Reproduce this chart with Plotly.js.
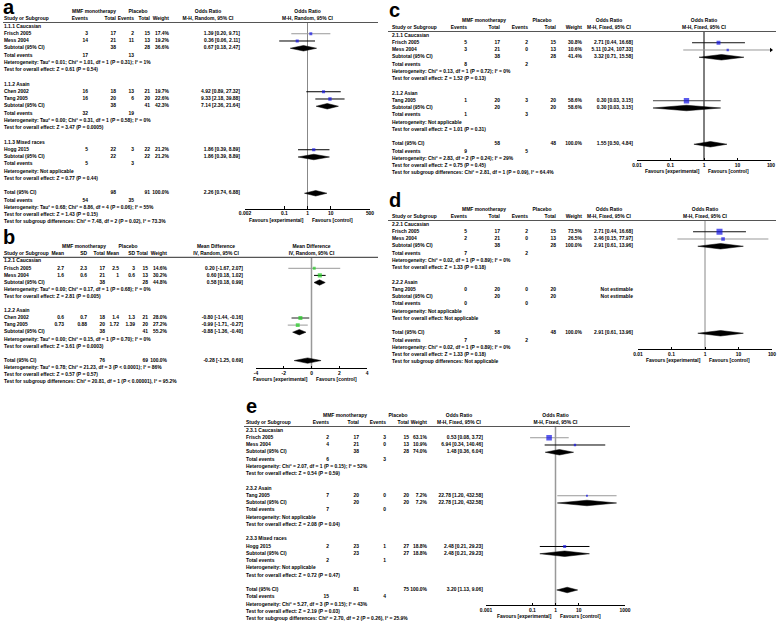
<!DOCTYPE html>
<html>
<head>
<meta charset="utf-8">
<script src="https://cdn.plot.ly/plotly-3.0.1.min.js"></script>
<style>
  html, body { margin: 0; padding: 0; background: #fff; }
  #graph { width: 778px; height: 625px; }
</style>
</head>
<body>
<div id="graph"></div>
<script>
// Five RevMan style forest plots (a-e) drawn with plotly

// ---------- a: odds ratio, M-H random ----------
var aGroups = ['1.1.1 Caucasian', '1.1.2 Asain', '1.1.3 Mixed races'];
var aStudies = ['Frisch 2005', 'Mess 2004', 'Chen 2002', 'Tang 2005', 'Hogg 2015'];
var aGroupOf = [0, 0, 1, 1, 2];
var aMmfEvents = [3, 14, 16, 16, 5];
var aMmfTotal = [17, 21, 18, 20, 22];
var aPlaEvents = [2, 11, 13, 6, 3];
var aPlaTotal = [15, 13, 21, 20, 22];
var aWeight = [17.4, 19.2, 19.7, 22.6, 21.2];
var aEst = [1.39, 0.36, 4.92, 9.33, 1.86];
var aLow = [0.20, 0.06, 0.89, 2.18, 0.39];
var aHigh = [9.71, 2.11, 27.32, 39.88, 8.89];
var aSubWeight = [36.6, 42.3, 21.2];
var aSubEst = [0.67, 7.14, 1.86];
var aSubLow = [0.18, 2.36, 0.39];
var aSubHigh = [2.47, 21.64, 8.89];
var aSubHet = ['Heterogeneity: Tau² = 0.01; Chi² = 1.01, df = 1 (P = 0.31); I² = 1%',
               'Heterogeneity: Tau² = 0.00; Chi² = 0.31, df = 1 (P = 0.58); I² = 0%',
               'Heterogeneity: Not applicable'];
var aSubTest = ['Test for overall effect: Z = 0.61 (P = 0.54)',
                'Test for overall effect: Z = 3.47 (P = 0.0005)',
                'Test for overall effect: Z = 0.77 (P = 0.44)'];
var aTotal = [2.26, 0.74, 6.88];
var aNotes = ['Heterogeneity: Tau² = 0.68; Chi² = 8.86, df = 4 (P = 0.06); I² = 55%',
              'Test for overall effect: Z = 1.43 (P = 0.15)',
              'Test for subgroup differences: Chi² = 7.48, df = 2 (P = 0.02), I² = 73.3%'];

// ---------- b: mean difference, IV random ----------
var bGroups = ['1.2.1 Caucasian', '1.2.2 Asain'];
var bStudies = ['Frisch 2005', 'Mess 2004', 'Chen 2002', 'Tang 2005'];
var bGroupOf = [0, 0, 1, 1];
var bMmfMean = [2.7, 1.6, 0.6, 0.73];
var bMmfSD = [2.3, 0.6, 0.7, 0.88];
var bMmfTotal = [17, 21, 18, 20];
var bPlaMean = [2.5, 1, 1.4, 1.72];
var bPlaSD = [3, 0.6, 1.3, 1.39];
var bPlaTotal = [15, 13, 21, 20];
var bWeight = [14.6, 30.2, 28.0, 27.2];
var bEst = [0.20, 0.60, -0.80, -0.99];
var bLow = [-1.67, 0.18, -1.44, -1.71];
var bHigh = [2.07, 1.02, -0.16, -0.27];
var bSubWeight = [44.8, 55.2];
var bSubEst = [0.58, -0.88];
var bSubLow = [0.18, -1.36];
var bSubHigh = [0.99, -0.40];
var bSubHet = ['Heterogeneity: Tau² = 0.00; Chi² = 0.17, df = 1 (P = 0.68); I² = 0%',
               'Heterogeneity: Tau² = 0.00; Chi² = 0.15, df = 1 (P = 0.70); I² = 0%'];
var bSubTest = ['Test for overall effect: Z = 2.81 (P = 0.005)',
                'Test for overall effect: Z = 3.61 (P = 0.0003)'];
var bTotal = [-0.28, -1.25, 0.69];
var bNotes = ['Heterogeneity: Tau² = 0.78; Chi² = 21.23, df = 3 (P < 0.0001); I² = 86%',
              'Test for overall effect: Z = 0.57 (P = 0.57)',
              'Test for subgroup differences: Chi² = 20.81, df = 1 (P < 0.00001), I² = 95.2%'];

// ---------- c: odds ratio, M-H fixed ----------
var cGroups = ['2.1.1 Caucasian', '2.1.2 Asian'];
var cStudies = ['Frisch 2005', 'Mess 2004', 'Tang 2005'];
var cGroupOf = [0, 0, 1];
var cMmfEvents = [5, 3, 1];
var cMmfTotal = [17, 21, 20];
var cPlaEvents = [2, 0, 3];
var cPlaTotal = [15, 13, 20];
var cWeight = [30.8, 10.6, 58.6];
var cEst = [2.71, 5.11, 0.30];
var cLow = [0.44, 0.24, 0.03];
var cHigh = [16.68, 107.33, 3.15];
var cSubWeight = [41.4, 58.6];
var cSubEst = [3.32, 0.30];
var cSubLow = [0.71, 0.03];
var cSubHigh = [15.58, 3.15];
var cSubHet = ['Heterogeneity: Chi² = 0.13, df = 1 (P = 0.72); I² = 0%',
               'Heterogeneity: Not applicable'];
var cSubTest = ['Test for overall effect: Z = 1.52 (P = 0.13)',
                'Test for overall effect: Z = 1.01 (P = 0.31)'];
var cTotal = [1.55, 0.50, 4.84];
var cNotes = ['Heterogeneity: Chi² = 2.83, df = 2 (P = 0.24); I² = 29%',
              'Test for overall effect: Z = 0.75 (P = 0.45)',
              'Test for subgroup differences: Chi² = 2.81, df = 1 (P = 0.09), I² = 64.4%'];

// ---------- d: odds ratio, M-H fixed ----------
var dGroups = ['2.2.1 Caucasian', '2.2.2 Asain'];
var dStudies = ['Frisch 2005', 'Mess 2004', 'Tang 2005'];
var dGroupOf = [0, 0, 1];
var dMmfEvents = [5, 2, 0];
var dMmfTotal = [17, 21, 20];
var dPlaEvents = [2, 0, 0];
var dPlaTotal = [15, 13, 20];
var dWeight = [73.5, 26.5, null];
var dEst = [2.71, 3.46, null];
var dLow = [0.44, 0.15, null];
var dHigh = [16.68, 77.97, null];
var dSubWeight = [100.0, null];
var dSubEst = [2.91, null];
var dSubLow = [0.61, null];
var dSubHigh = [13.96, null];
var dSubHet = ['Heterogeneity: Chi² = 0.02, df = 1 (P = 0.89); I² = 0%',
               'Heterogeneity: Not applicable'];
var dSubTest = ['Test for overall effect: Z = 1.33 (P = 0.18)',
                'Test for overall effect: Not applicable'];
var dTotal = [2.91, 0.61, 13.96];
var dNotes = ['Heterogeneity: Chi² = 0.02, df = 1 (P = 0.89); I² = 0%',
              'Test for overall effect: Z = 1.33 (P = 0.18)',
              'Test for subgroup differences: Not applicable'];

// ---------- e: odds ratio, M-H fixed ----------
var eGroups = ['2.3.1 Caucasian', '2.3.2 Asain', '2.3.3 Mixed races'];
var eStudies = ['Frisch 2005', 'Mess 2004', 'Tang 2005', 'Hogg 2015'];
var eGroupOf = [0, 0, 1, 2];
var eMmfEvents = [2, 4, 7, 2];
var eMmfTotal = [17, 21, 20, 23];
var ePlaEvents = [3, 0, 0, 1];
var ePlaTotal = [15, 13, 20, 27];
var eWeight = [63.1, 10.9, 7.2, 18.8];
var eEst = [0.53, 6.94, 22.78, 2.48];
var eLow = [0.08, 0.34, 1.20, 0.21];
var eHigh = [3.72, 140.46, 432.58, 29.23];
var eSubWeight = [74.0, 7.2, 18.8];
var eSubEst = [1.48, 22.78, 2.48];
var eSubLow = [0.36, 1.20, 0.21];
var eSubHigh = [6.04, 432.58, 29.23];
var eSubHet = ['Heterogeneity: Chi² = 2.07, df = 1 (P = 0.15); I² = 52%',
               'Heterogeneity: Not applicable',
               'Heterogeneity: Not applicable'];
var eSubTest = ['Test for overall effect: Z = 0.54 (P = 0.59)',
                'Test for overall effect: Z = 2.08 (P = 0.04)',
                'Test for overall effect: Z = 0.72 (P = 0.47)'];
var eTotal = [3.20, 1.13, 9.06];
var eNotes = ['Heterogeneity: Chi² = 5.27, df = 3 (P = 0.15); I² = 43%',
              'Test for overall effect: Z = 2.19 (P = 0.03)',
              'Test for subgroup differences: Chi² = 2.70, df = 2 (P = 0.26), I² = 25.9%'];

// ---------- page geometry (pixels) ----------
var W = 778, H = 625;
var FONT = '"Liberation Sans", Arial, sans-serif';
var TXT = 4.95;
var BLUE = '#1414e6', GREEN = '#22cc22';
var txtFont = {family: FONT, size: TXT, color: '#000', weight: 'bold'};

var data = [];
var layout = {
    width: W, height: H,
    margin: {l: 0, r: 0, t: 0, b: 0},
    paper_bgcolor: '#fff',
    plot_bgcolor: 'rgba(0,0,0,0)',
    showlegend: false,
    font: txtFont,
    // a shared pixel axis for the table text
    xaxis: {domain: [0, 1], range: [0, W], visible: false, fixedrange: true, anchor: 'y2'},
    shapes: [],
    annotations: []
};

function fx(v) { return v.toFixed(2); }
function ciText(e, lo, hi) { return e == null ? 'Not estimable' : fx(e) + ' [' + fx(lo) + ', ' + fx(hi) + ']'; }
function wText(w) { return w == null ? '' : w.toFixed(1) + '%'; }
function sum(arr, ids) { var s = 0; ids.forEach(function (i) { s += arr[i]; }); return s; }

function textTrace(ya, x, ys, txt, pos) {
    return {
        type: 'scatter', mode: 'text', xaxis: 'x', yaxis: ya,
        x: ys.map(function () { return x; }), y: ys, text: txt,
        textposition: pos, cliponaxis: false, hoverinfo: 'skip',
        textfont: txtFont
    };
}

// draws one forest panel, d = data, g = geometry
function drawPanel(k, d, g) {
    var xa = 'x' + k, ya = 'y' + k;
    var cont = !!d.mmfMean;
    var all = d.studies.map(function (s, i) { return i; });
    var rows = [];
    var r = 2;
    function add(cells, mark) { rows.push({r: r, cells: cells, mark: mark}); r++; }

    d.groups.forEach(function (gname, gi) {
        add([gname]);
        var ids = all.filter(function (i) { return d.groupOf[i] === gi; });
        ids.forEach(function (i) {
            var c = cont ? [d.mmfMean[i], d.mmfSD[i], d.mmfTotal[i], d.plaMean[i], d.plaSD[i], d.plaTotal[i]]
                         : [d.mmfEvents[i], d.mmfTotal[i], d.plaEvents[i], d.plaTotal[i]];
            add([d.studies[i]].concat(c, [wText(d.weight[i]), ciText(d.est[i], d.low[i], d.high[i])]),
                {type: 'study', i: i});
        });
        var n1 = sum(d.mmfTotal, ids), n2 = sum(d.plaTotal, ids);
        var sc = cont ? ['', '', n1, '', '', n2] : ['', n1, '', n2];
        add(['Subtotal (95% CI)'].concat(sc, [wText(d.subWeight[gi]), ciText(d.subEst[gi], d.subLow[gi], d.subHigh[gi])]),
            {type: 'diamond', e: d.subEst[gi], lo: d.subLow[gi], hi: d.subHigh[gi]});
        if (!cont) add(['Total events', sum(d.mmfEvents, ids), '', sum(d.plaEvents, ids)]);
        add([d.subHet[gi]]);
        add([d.subTest[gi]]);
        r++;
    });
    var N1 = sum(d.mmfTotal, all), N2 = sum(d.plaTotal, all);
    var tc = cont ? ['', '', N1, '', '', N2] : ['', N1, '', N2];
    add(['Total (95% CI)'].concat(tc, ['100.0%', ciText(d.total[0], d.total[1], d.total[2])]),
        {type: 'diamond', e: d.total[0], lo: d.total[1], hi: d.total[2]});
    if (!cont) add(['Total events', sum(d.mmfEvents, all), '', sum(d.plaEvents, all)]);
    d.notes.forEach(function (t) { add([t]); });

    // axes for this panel: row units on y, effect scale on x
    var r0 = -1.5, r1 = r - 0.5;
    layout['yaxis' + k] = {
        domain: [1 - (g.top + r1 * g.rowH) / H, 1 - (g.top + r0 * g.rowH) / H],
        range: [r1, r0], visible: false, fixedrange: true, anchor: xa
    };
    layout['xaxis' + k] = {
        domain: [g.plot[0] / W, g.plot[1] / W], type: g.log ? 'log' : 'linear',
        range: g.range, anchor: 'free', position: 1 - g.axisY / H,
        tickmode: 'array', tickvals: g.ticks, ticktext: g.ticks.map(String),
        showline: true, linecolor: '#000', linewidth: 1, ticks: 'inside', ticklen: 2.5,
        tickcolor: '#000', tickwidth: 1,
        tickfont: txtFont,
        showgrid: false, zeroline: false, fixedrange: true
    };

    // table text
    var heads = cont ? ['Mean', 'SD', 'Total', 'Mean', 'SD', 'Total', 'Weight'] : ['Events', 'Total', 'Events', 'Total', 'Weight'];
    var ncol = heads.length + 1;
    var ys = rows.map(function (o) { return o.r; });
    data.push(textTrace(ya, g.nameX, [1].concat(ys), ['Study or Subgroup'].concat(rows.map(function (o) { return o.cells[0]; })), 'middle right'));
    for (var j = 0; j < ncol; j++) {
        var yy = [], tt = [];
        rows.forEach(function (o) {
            var v = o.cells[j + 1];
            if (v !== undefined && v !== '') { yy.push(o.r); tt.push(String(v)); }
        });
        if (j < heads.length) { yy.unshift(1); tt.unshift(heads[j]); }
        data.push(textTrace(ya, g.cols[j], yy, tt, 'middle left'));
    }
    var pc = (g.plot[0] + g.plot[1]) / 2;
    data.push(textTrace(ya, g.grpX[0], [0], ['MMF monotherapy'], 'middle center'));
    data.push(textTrace(ya, g.grpX[1], [0], ['Placebo'], 'middle center'));
    data.push(textTrace(ya, g.ciHeadX, [0, 1], [d.measure, d.method], 'middle center'));
    data.push(textTrace(ya, pc, [0, 1], [d.measure, d.method], 'middle center'));

    // header rule
    layout.shapes.push({type: 'line', xref: 'paper', yref: ya, x0: g.left / W, x1: g.right / W,
        y0: 1.45, y1: 1.45, line: {color: '#555', width: 1.2}});

    // line of no effect
    var ref = g.log ? 1 : 0;
    data.push({type: 'scatter', mode: 'lines', xaxis: xa, yaxis: ya, hoverinfo: 'skip',
        x: [ref, ref], y: [1.45, (g.axisY - g.top) / g.rowH],
        line: {color: g.refColor, width: g.refWidth}});

    // studies: CI whiskers and weighted squares
    var maxV = g.log ? Math.pow(10, g.range[1]) : g.range[1];
    var sx = [], sy = [], ss = [];
    rows.forEach(function (o) {
        if (!o.mark) return;
        if (o.mark.type === 'study') {
            var i = o.mark.i;
            if (d.est[i] == null) return;
            var hi = Math.min(d.high[i], maxV);
            data.push({type: 'scatter', mode: 'lines', xaxis: xa, yaxis: ya, hoverinfo: 'skip',
                x: [d.low[i], hi], y: [o.r, o.r], line: {color: g.lineColors[i], width: 1}});
            if (d.high[i] > maxV) {
                data.push({type: 'scatter', mode: 'markers', xaxis: xa, yaxis: ya, hoverinfo: 'skip', cliponaxis: false,
                    x: [maxV], y: [o.r], marker: {symbol: 'triangle-right', size: 4, color: '#000'}});
            }
            sx.push(d.est[i]); sy.push(o.r); ss.push(g.sq * Math.sqrt(d.weight[i]));
        } else if (o.mark.e != null) {
            var m = o.mark, h = 0.38;
            data.push({type: 'scatter', mode: 'lines', xaxis: xa, yaxis: ya, hoverinfo: 'skip',
                x: [m.lo, m.e, m.hi, m.e, m.lo], y: [o.r, o.r - h, o.r, o.r + h, o.r],
                fill: 'toself', fillcolor: '#000', line: {color: '#000', width: 0.5}});
        }
    });
    data.push({type: 'scatter', mode: 'markers', xaxis: xa, yaxis: ya, hoverinfo: 'skip',
        x: sx, y: sy, marker: {symbol: 'square', size: ss, color: g.markColor, line: {width: 0}}});

    // favours labels and panel letter
    var favY = g.axisY + 11.5;
    layout.annotations.push({xref: xa, yref: 'paper', x: 0, y: 1 - favY / H, xanchor: 'right', yanchor: 'middle',
        xshift: -2, text: 'Favours [experimental]', showarrow: false, font: txtFont});
    layout.annotations.push({xref: xa, yref: 'paper', x: 0, y: 1 - favY / H, xanchor: 'left', yanchor: 'middle',
        xshift: 2, text: 'Favours [control]', showarrow: false, font: txtFont});
    layout.annotations.push({xref: 'paper', yref: 'paper', x: g.labelX / W, y: 1 - g.labelY / H,
        xanchor: 'left', yanchor: 'middle', text: '<b>' + g.label + '</b>', showarrow: false,
        font: {family: FONT, size: 20, color: '#000'}});
}

drawPanel(2, {groups: aGroups, studies: aStudies, groupOf: aGroupOf, mmfEvents: aMmfEvents, mmfTotal: aMmfTotal,
    plaEvents: aPlaEvents, plaTotal: aPlaTotal, weight: aWeight, est: aEst, low: aLow, high: aHigh,
    subWeight: aSubWeight, subEst: aSubEst, subLow: aSubLow, subHigh: aSubHigh, subHet: aSubHet, subTest: aSubTest,
    total: aTotal, notes: aNotes, measure: 'Odds Ratio', method: 'M-H, Random, 95% CI'},
    {top: 12, rowH: 7.25, left: 3, right: 378, nameX: 4, cols: [88, 116, 134, 150, 169, 240], grpX: [94, 138],
     ciHeadX: 208, plot: [245, 370], log: true, range: [Math.log10(0.002), Math.log10(500)],
     ticks: [0.002, 0.1, 1, 10, 500], axisY: 208.5, label: 'a', labelX: 1, labelY: 7,
     markColor: BLUE, sq: 0.7, lineColors: ['#999', '#000', '#000', '#000', '#000'], refColor: '#888', refWidth: 1});

drawPanel(3, {groups: bGroups, studies: bStudies, groupOf: bGroupOf, mmfMean: bMmfMean, mmfSD: bMmfSD, mmfTotal: bMmfTotal,
    plaMean: bPlaMean, plaSD: bPlaSD, plaTotal: bPlaTotal, weight: bWeight, est: bEst, low: bLow, high: bHigh,
    subWeight: bSubWeight, subEst: bSubEst, subLow: bSubLow, subHigh: bSubHigh, subHet: bSubHet, subTest: bSubTest,
    total: bTotal, notes: bNotes, measure: 'Mean Difference', method: 'IV, Random, 95% CI'},
    {top: 247, rowH: 7.1, left: 3, right: 378, nameX: 4, cols: [64, 87, 105, 119, 135, 148, 167, 243], grpX: [84, 128],
     ciHeadX: 216, plot: [256, 367], log: false, range: [-4, 4], ticks: [-4, -2, 0, 2, 4],
     axisY: 368, label: 'b', labelX: 1, labelY: 237,
     markColor: GREEN, sq: 0.75, lineColors: ['#999', '#000', '#222', '#999'], refColor: '#999', refWidth: 1.5});

drawPanel(4, {groups: cGroups, studies: cStudies, groupOf: cGroupOf, mmfEvents: cMmfEvents, mmfTotal: cMmfTotal,
    plaEvents: cPlaEvents, plaTotal: cPlaTotal, weight: cWeight, est: cEst, low: cLow, high: cHigh,
    subWeight: cSubWeight, subEst: cSubEst, subLow: cSubLow, subHigh: cSubHigh, subHet: cSubHet, subTest: cSubTest,
    total: cTotal, notes: cNotes, measure: 'Odds Ratio', method: 'M-H, Fixed, 95% CI'},
    {top: 21, rowH: 7.25, left: 388, right: 776, nameX: 392, cols: [467, 500, 528, 556, 582, 633], grpX: [484, 542],
     ciHeadX: 609, plot: [637, 771], log: true, range: [-2, 2], ticks: [0.01, 0.1, 1, 10, 100],
     axisY: 160, label: 'c', labelX: 387, labelY: 10,
     markColor: BLUE, sq: 0.7, lineColors: ['#111', '#999', '#444'], refColor: '#000', refWidth: 1});

drawPanel(5, {groups: dGroups, studies: dStudies, groupOf: dGroupOf, mmfEvents: dMmfEvents, mmfTotal: dMmfTotal,
    plaEvents: dPlaEvents, plaTotal: dPlaTotal, weight: dWeight, est: dEst, low: dLow, high: dHigh,
    subWeight: dSubWeight, subEst: dSubEst, subLow: dSubLow, subHigh: dSubHigh, subHet: dSubHet, subTest: dSubTest,
    total: dTotal, notes: dNotes, measure: 'Odds Ratio', method: 'M-H, Fixed, 95% CI'},
    {top: 210, rowH: 7.25, left: 388, right: 776, nameX: 392, cols: [467, 500, 528, 556, 582, 633], grpX: [484, 542],
     ciHeadX: 609, plot: [638, 772], log: true, range: [-2, 2], ticks: [0.01, 0.1, 1, 10, 100],
     axisY: 349, label: 'd', labelX: 387, labelY: 200,
     markColor: BLUE, sq: 0.7, lineColors: ['#111', '#999', '#000'], refColor: '#888', refWidth: 1});

drawPanel(6, {groups: eGroups, studies: eStudies, groupOf: eGroupOf, mmfEvents: eMmfEvents, mmfTotal: eMmfTotal,
    plaEvents: ePlaEvents, plaTotal: ePlaTotal, weight: eWeight, est: eEst, low: eLow, high: eHigh,
    subWeight: eSubWeight, subEst: eSubEst, subLow: eSubLow, subHigh: eSubHigh, subHet: eSubHet, subTest: eSubTest,
    total: eTotal, notes: eNotes, measure: 'Odds Ratio', method: 'M-H, Fixed, 95% CI'},
    {top: 416, rowH: 7.25, left: 244, right: 630, nameX: 246, cols: [329, 359, 386, 409, 427, 483], grpX: [345, 398],
     ciHeadX: 459, plot: [486, 625], log: true, range: [-3, 3], ticks: [0.001, 0.1, 1, 10, 1000],
     axisY: 605, label: 'e', labelX: 244, labelY: 406,
     markColor: BLUE, sq: 0.7, lineColors: ['#999', '#000', '#999', '#000'], refColor: '#999', refWidth: 1.5});

Plotly.newPlot('graph', data, layout, {staticPlot: true, displayModeBar: false});
</script>
</body>
</html>
